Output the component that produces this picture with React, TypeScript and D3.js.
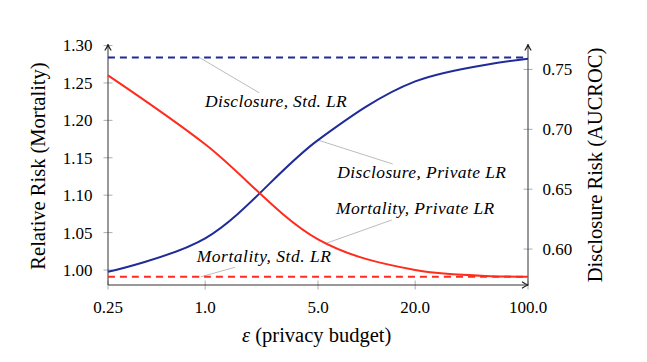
import React from "react";
import * as d3 from "d3";

// ---- data ----
const epsilons = [0.25, 1, 5, 20, 100];
const xTickLabels = ["0.25", "1.0", "5.0", "20.0", "100.0"];
const mortalityPrivate = [1.26, 1.168, 1.041, 1.0, 0.991];
const mortalityStd = [0.991, 0.991, 0.991, 0.991, 0.991];
const disclosurePrivate = [0.581, 0.609, 0.691, 0.74, 0.759];
const disclosureStd = [0.76, 0.76, 0.76, 0.76, 0.76];
const leftTicks = [1.0, 1.05, 1.1, 1.15, 1.2, 1.25, 1.3];
const rightTicks = [0.6, 0.65, 0.7, 0.75];

const W = 647;
const H = 362;
const L = 108, R = 528, T = 45.5, B = 285;

const BLUE = "#1e2b98";
const RED = "#ff2b1c";
const SERIF = "'Liberation Serif', 'Times New Roman', Times, serif";

export default function App() {
  const x = d3.scaleLog().domain([0.25, 100]).range([L, R]);
  const yL = d3.scaleLinear().domain([0.98, 1.3]).range([B, T]);
  const yR = d3.scaleLinear().domain([0.57, 0.77]).range([B, T]);

  const lineL = d3
    .line<number>()
    .x((_, i) => x(epsilons[i]))
    .y((d) => yL(d))
    .curve(d3.curveCatmullRom.alpha(0.5));
  const lineR = d3
    .line<number>()
    .x((_, i) => x(epsilons[i]))
    .y((d) => yR(d))
    .curve(d3.curveCatmullRom.alpha(0.5));

  // annotations: anchor on series (data coords) + label placement in px
  const annotations = [
    { text: "Disclosure, Std. LR", px: x(0.92), py: yR(0.76), ex: 259, ey: 92.7, tx: 205, ty: 106.7, w: 141.7 },
    { text: "Disclosure, Private LR", px: x(5), py: yR(0.691), ex: 392.7, ey: 164, tx: 337.3, ty: 178.3, w: 168.7 },
    { text: "Mortality, Private LR", px: x(5.6), py: yL(1.0356), ex: 391.7, ey: 220, tx: 336, ty: 214, w: 158.3 },
    { text: "Mortality, Std. LR", px: x(0.94), py: yL(0.991), ex: 235, ey: 267.3, tx: 196.7, ty: 261.7, w: 134.3 },
  ];

  const arrow = (tx: number, ty: number, angle: number) => (
    <path
      d="M -6,-3.2 Q -2.5,-0.8 0,0 Q -2.5,0.8 -6,3.2"
      transform={`translate(${tx},${ty}) rotate(${angle})`}
      fill="none"
      stroke="#222"
      strokeWidth={1.2}
      strokeLinejoin="round"
    />
  );

  const textStyle = { fontFamily: SERIF };

  return (
    <svg
      width={W}
      height={H}
      style={{ position: "absolute", left: 0, top: 0, background: "#fff" }}
    >
      <rect x={0} y={0} width={W} height={H} fill="#fff" />

      {/* ticks */}
      {leftTicks.map((t) => (
        <g key={"l" + t}>
          <line x1={L - 4.5} x2={L + 4.5} y1={yL(t)} y2={yL(t)} stroke="#999" strokeWidth={0.8} />
          <text x={L - 15.5} y={yL(t)} dy="0.35em" textAnchor="end" fontSize={17} style={textStyle}>
            {t.toFixed(2)}
          </text>
        </g>
      ))}
      {rightTicks.map((t) => (
        <g key={"r" + t}>
          <line x1={R - 4.5} x2={R + 4.5} y1={yR(t)} y2={yR(t)} stroke="#999" strokeWidth={0.8} />
          <text x={R + 14.5} y={yR(t)} dy="0.35em" textAnchor="start" fontSize={17} style={textStyle}>
            {t.toFixed(2)}
          </text>
        </g>
      ))}
      {epsilons.map((e, i) => (
        <g key={"x" + e}>
          <line x1={x(e)} x2={x(e)} y1={B - 4.5} y2={B + 4.5} stroke="#999" strokeWidth={0.8} />
          <text x={x(e)} y={313.3} textAnchor="middle" fontSize={17} style={textStyle}>
            {xTickLabels[i]}
          </text>
        </g>
      ))}

      {/* axes */}
      <line x1={L} x2={L} y1={B} y2={T - 1} stroke="#333" strokeWidth={1} />
      <line x1={R} x2={R} y1={B} y2={T - 1} stroke="#333" strokeWidth={1} />
      <line x1={L} x2={R} y1={B} y2={B} stroke="#333" strokeWidth={1} />
      {arrow(L, T - 1, -90)}
      {arrow(R, T - 1, -90)}
      {arrow(R, B, 0)}

      {/* pins */}
      {annotations.map((a) => (
        <line key={"p" + a.text} x1={a.px} y1={a.py} x2={a.ex} y2={a.ey} stroke="#b4b4b4" strokeWidth={0.9} />
      ))}

      {/* series */}
      <path d={lineR(disclosureStd) || ""} fill="none" stroke={BLUE} strokeWidth={2} strokeDasharray="7,5" />
      <path d={lineL(mortalityStd) || ""} fill="none" stroke={RED} strokeWidth={2} strokeDasharray="7,5" />
      <path d={lineR(disclosurePrivate) || ""} fill="none" stroke={BLUE} strokeWidth={2} />
      <path d={lineL(mortalityPrivate) || ""} fill="none" stroke={RED} strokeWidth={2} />

      {/* labels */}
      {annotations.map((a) => (
        <text
          key={"t" + a.text}
          x={a.tx}
          y={a.ty}
          fontSize={17.5}
          fontStyle="italic"
          textLength={a.w}
          lengthAdjust="spacing"
          style={textStyle}
        >
          {a.text}
        </text>
      ))}

      <text x={316.7} y={341.7} textAnchor="middle" fontSize={20.5} style={textStyle}>
        <tspan fontStyle="italic">ε</tspan> (privacy budget)
      </text>
      <text transform={`translate(45,166) rotate(-90)`} textAnchor="middle" fontSize={20.5} style={textStyle}>
        Relative Risk (Mortality)
      </text>
      <text transform={`translate(602,165) rotate(-90)`} textAnchor="middle" fontSize={20.5} style={textStyle}>
        Disclosure Risk (AUCROC)
      </text>
    </svg>
  );
}
